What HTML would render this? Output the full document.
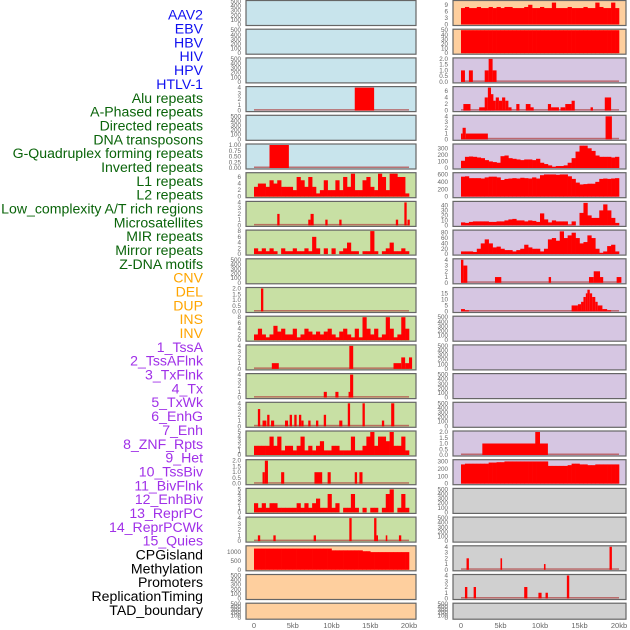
<!DOCTYPE html>
<html><head><meta charset="utf-8">
<style>
body{margin:0;background:#fff;}
svg{display:block;}
.lab{font-family:"Liberation Sans",sans-serif;font-size:14.1px;}
.tk{font-family:"Liberation Sans",sans-serif;font-size:6.3px;fill:#666;}
.xt{font-family:"Liberation Sans",sans-serif;font-size:7.5px;fill:#666;}
</style></head><body>
<svg id="chart" width="630" height="630" viewBox="0 0 630 630" xmlns="http://www.w3.org/2000/svg"></svg>
<script>
// ---- labels ----
const trackNames=["AAV2","EBV","HBV","HIV","HPV","HTLV-1","Alu repeats","A-Phased repeats","Directed repeats","DNA transposons","G-Quadruplex forming repeats","Inverted repeats","L1 repeats","L2 repeats","Low_complexity A/T rich regions","Microsatellites","MIR repeats","Mirror repeats","Z-DNA motifs","CNV","DEL","DUP","INS","INV","1_TssA","2_TssAFlnk","3_TxFlnk","4_Tx","5_TxWk","6_EnhG","7_Enh","8_ZNF_Rpts","9_Het","10_TssBiv","11_BivFlnk","12_EnhBiv","13_ReprPC","14_ReprPCWk","15_Quies","CPGisland","Methylation","Promoters","ReplicationTiming","TAD_boundary"];
const nameGroups=[0,0,0,0,0,0,1,1,1,1,1,1,1,1,1,1,1,1,1,2,2,2,2,2,3,3,3,3,3,3,3,3,3,3,3,3,3,3,3,4,4,4,4,4];
const xTickLabels=["0","5kb","10kb","15kb","20kb"];
const xTickValues=[0,5,10,15,20];
// ---- dense data (40 bins of 0.5kb) ----
const L_dense6=[3,4,4,3,5,4,5,3,3,3,2,6,5,3,6,3,1,2,5,2,2,5,2,6,3,7,2,2,5,6,3,2,7,6,2,7,7,6,6,1];
const L_dense8=[2,1,2,1,2,1,0,2,1,1,2,1,1,2,1,6,2,0,2,0,2,0,1,2,4,1,1,0,1,1,8,1,0,1,2,4,1,1,2,1];
const L_dense11=[2,4,2,1,2,5,3,4,2,2,4,1,2,4,3,2,3,2,3,4,2,1,3,4,2,1,4,1,8,4,2,4,1,2,8,4,1,2,8,4];
const L_dense15=[2,2,2,2,4,2,4,1,2,2,1,2,4,1,2,1,2,3,1,1,2,2,1,1,1,4,1,1,2,4,5,2,4,4,3,5,2,2,4,1];
const L_dense17=[2,1,2,1,2,2,1,1,1,1,1,2,1,2,1,2,3,1,1,4,1,2,0,1,1,4,1,0,1,0,1,1,0,1,4,5,0,1,4,1];
const L_dense19=[1200,1200,1200,1200,1200,1200,1200,1200,1200,1200,1200,1200,1200,1200,1200,1200,1200,1200,1200,1200,1100,1100,1100,1100,1100,1100,1100,1100,1050,1050,1000,1000,1000,1000,1000,1000,1000,1000,1000,1000];
const R_dense0=[7.5,8,7.5,7.5,8,7.5,7.5,8,7.5,8,7.5,8,8,7.5,7.5,7.5,8,9,7.5,7.5,8,7.5,7.5,10,7.5,7.5,7.5,8,7.5,7.5,7.5,8,7.5,7.5,10,8,7.5,7.5,10,7.5];
const R_dense1=[50,50,50,50,50,50,50,50,50,50,50,50,50,50,50,50,50,50,50,50,50,50,50,50,50,50,50,50,50,50,50,50,50,50,50,50,50,50,50,50];
const R_dense5=[110,170,175,170,160,150,120,100,90,80,180,190,150,140,130,120,130,130,120,140,80,60,40,20,30,30,40,80,150,250,340,340,300,260,190,170,170,170,160,170];
const R_dense6=[540,550,500,500,500,490,520,540,540,520,450,480,490,500,490,510,500,490,520,490,580,600,600,600,590,600,600,550,480,380,330,340,350,350,400,480,490,480,490,500];
const R_dense7=[6,5,7,8,8,8,8,7,7,8,8,10,12,13,10,10,8,10,9,7,24,12,6,10,8,8,8,2,8,0,25,45,20,15,15,30,42,30,15,5];
const R_dense8=[10,10,10,8,20,40,55,40,25,28,20,15,15,10,15,20,35,25,20,20,10,20,55,60,50,85,60,70,80,60,40,45,70,60,20,5,10,30,35,10];
const R_dense16=[260,270,270,270,270,270,270,285,285,290,290,300,300,300,300,300,300,300,300,300,300,300,240,240,240,240,240,250,270,270,260,260,250,250,260,260,260,260,260,260];
// ---- sparse data [startKb, endKb, value] ----
const L_seg3=[[13,15.5,4]];
const L_seg5=[[2,4.5,1]];
const L_seg7=[[3,3.3,2],[7,7.3,1],[7.3,7.7,2],[9.2,9.5,1],[11,11.3,1],[18.3,18.6,1],[19.4,19.7,4],[19.8,20.1,1]];
const L_seg10=[[0.9,1.2,2]];
const L_seg12=[[2.3,3.2,1],[12.3,12.8,4],[18,19,1],[19,19.5,2],[19.5,20,1],[20,20.4,2]];
const L_seg13=[[9,9.4,1],[10.5,10.9,1],[12.2,12.5,1],[12.4,12.8,4]];
const L_seg14=[[0.5,0.8,3],[1.1,1.6,1],[1.7,2,2],[2.2,2.6,1],[4,4.4,1],[4.6,4.9,2],[5.2,5.5,2],[5.8,6.1,2],[6.1,6.4,1],[7,7.3,1],[8,8.3,1],[9,9.3,2],[11,11.4,1],[12.1,12.4,4],[14,14.3,4],[16.5,16.8,1],[17.7,18.1,4]];
const L_seg16=[[1.1,1.4,1],[1.4,1.8,2],[3.5,3.9,1],[7.8,8.8,1],[9.5,9.9,1],[13,13.3,1],[13.6,14,1]];
const L_seg18=[[0.5,0.8,1],[2.5,2.8,1],[7.7,8,1],[12.3,12.6,4],[15.5,15.8,4],[15.8,16,1],[17,17.2,1],[18.7,19,1]];
const R_seg2=[[0,0.5,1],[1,1.5,1],[3,3.5,1],[3.5,4,2],[4,4.5,1]];
const R_seg3=[[0.3,1.2,2],[2.3,3.2,1],[3,3.4,4],[3.4,3.8,7],[3.7,4.1,5],[4,4.4,3],[4.4,4.8,4],[4.8,5.2,3],[5.2,5.6,4],[5.6,6,3],[6,6.4,1],[7,7.4,2],[8.2,8.8,2],[8.8,9.2,1],[11,11.4,2],[11.4,12.4,1],[12.6,13.2,1],[13.2,14,2],[14,14.4,3],[16.4,16.7,1],[18.2,19,4]];
const R_seg4=[[0,0.2,1],[0.2,0.6,2],[0.6,3.4,1],[18.3,19.1,4]];
const R_seg9=[[0,0.3,4],[0.3,0.8,3],[4.3,5.1,1],[11.1,11.4,1],[16.2,16.8,1],[16.8,17.6,2],[17.6,18,1],[19.7,20.3,1]];
const R_seg10=[[0,0.5,2],[0.5,1,1],[14,14.8,5],[14.8,15.2,6],[15.2,15.5,8],[15.5,15.8,12],[15.8,16,15],[16,16.3,18],[16.3,16.6,15],[16.6,17,12],[17,17.3,8],[17.3,17.9,5],[17.9,18.5,2],[18.5,19,1]];
const R_seg15=[[2.7,11,1],[9.4,10,2]];
const R_seg19=[[0.7,1,2],[5,5.2,2],[10.5,10.7,1],[18.8,19.1,4]];
const R_seg20=[[0.5,0.8,2],[1.6,1.9,2],[8,8.4,2],[9.8,10.2,1],[10.7,11,1],[13.4,13.7,4]];

const BLUE="#c8e4ec",GREEN="#c8e0a4",PEACH="#fecf9e",PURP="#d6c6e2",GRAY="#d0d0d0";
const E500=[0,100,200,300,400,500];
const panels=[
 {c:0,r:0,bg:BLUE,ymax:500,t:E500},{c:0,r:1,bg:BLUE,ymax:500,t:E500},{c:0,r:2,bg:BLUE,ymax:500,t:E500},
 {c:0,r:3,bg:BLUE,ymax:4,t:[0,1,2,3,4],seg:L_seg3},{c:0,r:4,bg:BLUE,ymax:500,t:E500},
 {c:0,r:5,bg:BLUE,ymax:1,t:[0,0.25,0.5,0.75,1],tl:["0.00","0.25","0.50","0.75","1.00"],seg:L_seg5},
 {c:0,r:6,bg:GREEN,ymax:7,t:[0,2,4,6],d:L_dense6},{c:0,r:7,bg:GREEN,ymax:4,t:[0,1,2,3,4],seg:L_seg7},
 {c:0,r:8,bg:GREEN,ymax:8,t:[0,2,4,6,8],d:L_dense8},{c:0,r:9,bg:GREEN,ymax:500,t:E500},
 {c:0,r:10,bg:GREEN,ymax:2,t:[0,0.5,1,1.5,2],tl:["0.0","0.5","1.0","1.5","2.0"],seg:L_seg10},
 {c:0,r:11,bg:GREEN,ymax:8,t:[0,2,4,6,8],d:L_dense11},{c:0,r:12,bg:GREEN,ymax:4,t:[0,1,2,3,4],seg:L_seg12},
 {c:0,r:13,bg:GREEN,ymax:4,t:[0,1,2,3,4],seg:L_seg13},{c:0,r:14,bg:GREEN,ymax:4,t:[0,1,2,3,4],seg:L_seg14},
 {c:0,r:15,bg:GREEN,ymax:5,t:[0,1,2,3,4,5],d:L_dense15},
 {c:0,r:16,bg:GREEN,ymax:2,t:[0,0.5,1,1.5,2],tl:["0.0","0.5","1.0","1.5","2.0"],seg:L_seg16},
 {c:0,r:17,bg:GREEN,ymax:5,t:[0,1,2,3,4,5],d:L_dense17},{c:0,r:18,bg:GREEN,ymax:4,t:[0,1,2,3,4],seg:L_seg18},
 {c:0,r:19,bg:PEACH,ymax:1300,t:[0,500,1000],d:L_dense19},{c:0,r:20,bg:PEACH,ymax:500,t:E500},{c:0,r:21,bg:PEACH,ymax:500,t:E500},
 {c:1,r:0,bg:PEACH,ymax:10.5,t:[0,3,6,9],d:R_dense0},{c:1,r:1,bg:PEACH,ymax:50,t:[0,10,20,30,40,50],d:R_dense1},
 {c:1,r:2,bg:PURP,ymax:2,t:[0,0.5,1,1.5,2],tl:["0.0","0.5","1.0","1.5","2.0"],seg:R_seg2},
 {c:1,r:3,bg:PURP,ymax:7,t:[0,2,4,6],seg:R_seg3},{c:1,r:4,bg:PURP,ymax:4,t:[0,1,2,3,4],seg:R_seg4},
 {c:1,r:5,bg:PURP,ymax:350,t:[0,100,200,300],d:R_dense5},{c:1,r:6,bg:PURP,ymax:620,t:[0,200,400,600],d:R_dense6},
 {c:1,r:7,bg:PURP,ymax:46,t:[0,10,20,30,40],d:R_dense7},{c:1,r:8,bg:PURP,ymax:86,t:[0,20,40,60,80],d:R_dense8},
 {c:1,r:9,bg:PURP,ymax:4,t:[0,1,2,3,4],seg:R_seg9},{c:1,r:10,bg:PURP,ymax:19,t:[0,5,10,15],seg:R_seg10},
 {c:1,r:11,bg:PURP,ymax:500,t:E500},{c:1,r:12,bg:PURP,ymax:500,t:E500},{c:1,r:13,bg:PURP,ymax:500,t:E500},{c:1,r:14,bg:PURP,ymax:500,t:E500},
 {c:1,r:15,bg:PURP,ymax:2,t:[0,0.5,1,1.5,2],tl:["0.0","0.5","1.0","1.5","2.0"],seg:R_seg15},
 {c:1,r:16,bg:PURP,ymax:310,t:[0,100,200,300],d:R_dense16},
 {c:1,r:17,bg:GRAY,ymax:500,t:E500},{c:1,r:18,bg:GRAY,ymax:500,t:E500},
 {c:1,r:19,bg:GRAY,ymax:4,t:[0,1,2,3,4],seg:R_seg19},{c:1,r:20,bg:GRAY,ymax:4,t:[0,1,2,3,4],seg:R_seg20},
 {c:1,r:21,bg:GRAY,ymax:500,t:E500}
];
const NS="http://www.w3.org/2000/svg";
const svg=document.getElementById('chart');
function mk(tag,attrs,parent){const e=document.createElementNS(NS,tag);for(const k in attrs)e.setAttribute(k,attrs[k]);(parent||svg).appendChild(e);return e;}
const groupColors=["#1010f0","#0a640a","#ffa500","#a030e8","#000000"];
trackNames.forEach((n,i)=>{
  const t=mk('text',{x:203,y:16+i*13.84,'text-anchor':'end','dominant-baseline':'middle',class:'lab',fill:groupColors[nameGroups[i]]});
  
  
  t.textContent=n;
});
const colGeo=[{x0:246,x1:416,z:254,s:7.75,tx:241},{x0:453,x1:626,z:461,s:7.9,tx:448}];
panels.forEach((p,pi)=>{
  const g=colGeo[p.c];
  const top=p.r*28.7+0.5, h=(p.r===21?16:25);
  const xs=kb=>g.z+kb*g.s;
  const ys=v=>top+h-1-Math.min(v,p.ymax)/p.ymax*(h-2);
  const grp=mk('g',{});
  
  
  mk('rect',{x:g.x0,y:top,width:g.x1-g.x0,height:h,fill:p.bg,stroke:'#666',"stroke-width":1.2},grp);
  if(p.d){
    const w=0.5;
    p.d.forEach((v,i)=>{
      if(v<=0)return;
      const r=mk('rect',{x:xs(i*w),y:ys(v),width:xs(w)-xs(0)+0.3,height:top+h-1-ys(v),fill:'#ff0000'},grp);
      
      
    });
  }
  if(p.seg){
    mk('rect',{x:xs(0),y:top+h-2.5,width:xs(20)-xs(0),height:1.5,fill:'#b04040',opacity:0.7},grp);
    p.seg.forEach(s=>{
      const r=mk('rect',{x:xs(s[0]),y:ys(s[2]),width:Math.max(1.5,xs(s[1])-xs(s[0])),height:top+h-1-ys(s[2]),fill:'#ff0000'},grp);
      
      
    });
  }
  p.t.forEach((tv,ti)=>{
    const t=mk('text',{x:g.tx,y:ys(tv)+2,'text-anchor':'end',class:'tk'},grp);
    
    
    t.textContent=p.tl?p.tl[ti]:String(tv);
  });
});
colGeo.forEach((g,ci)=>{
  xTickValues.forEach((v,i)=>{
    const t=mk('text',{x:g.z+v*g.s,y:628,'text-anchor':'middle',class:'xt'});
    
    
    t.textContent=xTickLabels[i];
  });
});
</script>
</body></html>
